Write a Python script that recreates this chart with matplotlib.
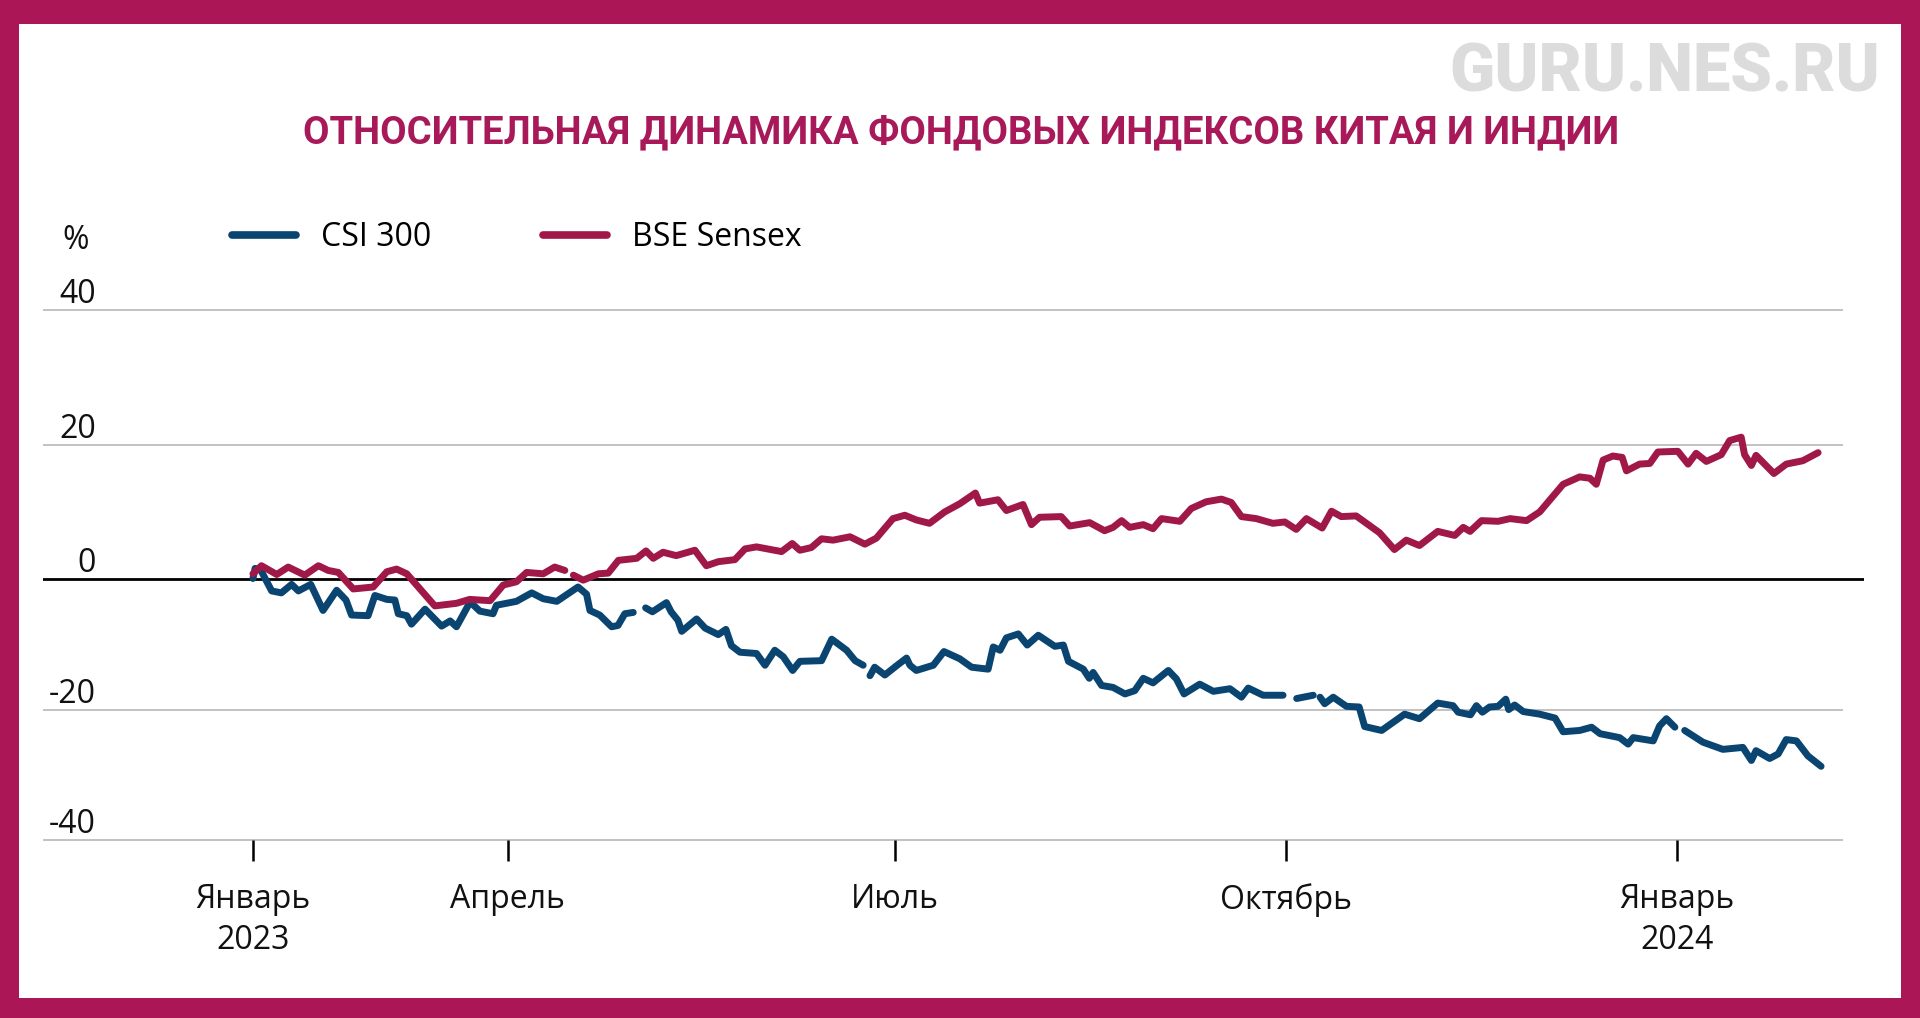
import numpy as np
import matplotlib
matplotlib.use('Agg')
import matplotlib.pyplot as plt
from matplotlib.patches import Rectangle
from matplotlib.lines import Line2D

###############################################################
# Data (days since the first observation, % change)
###############################################################
bse_days = [0, 2, 5.6, 8.3, 12.2, 15.4, 17.7, 20.1, 23.6, 28.3, 31.5, 33.8, 36.2,
            42.8, 47.9, 51.0, 55.8, 58.9, 62.0, 64.4, 68.3, 71.0, 73.4, 74.4,
            75.4, 77.7, 81.3, 83.6, 86.0, 90.3, 92.5, 94.2, 96.5, 99.6, 104.0,
            106.7, 109.5, 113.4, 115.8, 118.5, 124.4, 126.9, 128.7, 131.4, 133.8,
            136.5, 140.5, 144.0, 146.7, 150.6, 153.4, 156.1, 159.2, 162.8, 166.3,
            170.0, 171.0, 175.3, 177.3, 181.2, 183.2, 185.1, 190.2, 192.2, 196.9,
            200.4, 202.4, 204.4, 206.3, 209.5, 211.8, 213.8, 218.1, 220.8, 224.3,
            227.9, 230.2, 232.6, 236.1, 240.0, 242.8, 245.5, 247.9, 251.6, 253.8,
            256.1, 259.6, 265.1, 268.6, 271.4, 274.5, 278.8, 282.8, 284.8, 286.4,
            289.1, 293.0, 295.8, 299.7, 302.8, 308.3, 312.2, 314.6, 316.1, 317.7,
            320.0, 322.2, 323.2, 326.3, 328.7, 330.6, 335.3, 337.7, 339.6, 342.0,
            345.5, 347.5, 350.2, 351.0, 352.6, 353.7, 357.9, 360.8, 364.7, 368.3]
bse_vals = [0.8, 2.0, 0.7, 1.8, 0.6, 2.0, 1.3, 1.0, -1.5, -1.2, 1.1, 1.5, 0.8,
            -4.1, -3.7, -3.1, -3.3, -0.9, -0.4, 1.0, 0.8, 1.8, 1.3, np.nan,
            0.6, -0.15, 0.8, 0.9, 2.8, 3.1, 4.2, 3.1, 4.0, 3.5, 4.3,
            2.0, 2.6, 2.9, 4.5, 4.8, 4.1, 5.3, 4.3, 4.7, 6.0,
            5.8, 6.3, 5.2, 6.1, 9.0, 9.5, 8.8, 8.3, 10.0, 11.2,
            12.8, 11.3, 11.8, 10.2, 11.1, 8.1, 9.2, 9.3, 7.9, 8.4,
            7.2, 7.7, 8.7, 7.7, 8.1, 7.5, 9.0, 8.6, 10.5, 11.5,
            11.9, 11.4, 9.3, 9.0, 8.3, 8.5, 7.4, 9.0, 7.6, 10.1,
            9.3, 9.4, 6.9, 4.4, 5.8, 5.0, 7.1, 6.5, 7.7, 7.1,
            8.7, 8.6, 9.0, 8.7, 10.0, 14.1, 15.2, 15.0, 14.1, 17.7,
            18.3, 18.1, 16.1, 17.1, 17.2, 18.9, 19.0, 17.1, 18.7, 17.5,
            18.5, 20.6, 21.1, 18.5, 16.9, 18.4, 15.7, 17.1, 17.6, 18.8]

csi_days = [0, 0.5, 1.8, 4.4, 6.7, 9.1, 10.7, 13.6, 16.5, 19.7, 21.9, 23.2, 27.1,
            28.7, 31.5, 33.4, 34.2, 36.2, 37.3, 40.5, 44.4, 46.4, 47.9, 51.1, 53.4,
            56.5, 57.3, 62.0, 65.6, 68.3, 71.5, 76.5, 78.5, 79.3, 81.6, 84.4, 85.9,
            87.5, 89.5, 91.0, 92.4, 94.0, 97.3, 98.4, 100.0, 100.9, 104.4, 106.4,
            109.5, 111.3, 112.6, 114.6, 118.5, 120.5, 122.8, 124.8, 127.0, 128.7,
            133.8, 136.2, 139.7, 141.7, 143.6, 144.4, 145.2, 146.3, 148.7, 151.4,
            153.8, 154.6, 156.1, 160.1, 162.6, 166.3, 169.1, 173.0, 174.2, 175.8,
            177.3, 180.1, 182.2, 184.8, 188.7, 190.7, 191.9, 195.4, 196.8, 197.7,
            199.7, 202.4, 205.2, 207.5, 209.5, 211.8, 215.4, 217.3, 219.1, 222.8,
            226.0, 229.9, 232.6, 234.2, 237.7, 242.4, 244.0, 245.6, 249.5, 250.3,
            251.1, 252.2, 254.2, 257.3, 260.3, 261.6, 265.6, 271.0, 274.5, 278.8,
            282.4, 283.6, 286.5, 287.9, 289.3, 291.0, 293.0, 294.8, 295.5, 296.9,
            298.9, 302.8, 306.4, 308.3, 312.2, 315.0, 317.0, 321.6, 323.6, 324.8,
            329.5, 331.0, 332.6, 334.6, 335.7, 336.9, 341.2, 345.9, 350.6, 352.6,
            353.7, 356.9, 358.9, 360.8, 363.2, 365.9, 369.0]
csi_vals = [0.1, 1.6, 1.4, -1.8, -2.1, -0.8, -1.8, -0.8, -4.8, -1.7, -3.2, -5.5, -5.6,
            -2.5, -3.1, -3.2, -5.3, -5.6, -6.9, -4.6, -7.2, -6.4, -7.3, -3.5, -4.9,
            -5.3, -4.0, -3.4, -2.1, -3.0, -3.4, -1.2, -2.3, -4.8, -5.5, -7.3, -7.1,
            -5.3, -5.1, np.nan, -4.4, -5.0, -3.6, -5.0, -6.3, -8.0, -6.1, -7.5,
            -8.5, -7.7, -10.2, -11.2, -11.4, -13.2, -10.9, -11.9, -14.0, -12.6,
            -12.5, -9.2, -10.9, -12.5, -13.2, np.nan, -14.8, -13.5, -14.7, -13.3,
            -12.1, -13.2, -14.0, -13.2, -11.1, -12.2, -13.5, -13.8, -10.4, -10.9,
            -9.0, -8.4, -10.1, -8.6, -10.3, -10.1, -12.6, -13.8, -15.2, -14.3,
            -16.3, -16.6, -17.6, -17.1, -15.2, -15.9, -14.0, -15.3, -17.6, -16.1,
            -17.2, -16.8, -18.1, -16.7, -17.8, -17.8, np.nan, -18.3, -17.8, np.nan,
            -18.1, -19.1, -18.1, -19.5, -19.6, -22.6, -23.2, -20.7, -21.4, -19.0,
            -19.4, -20.4, -20.8, -19.4, -20.4, -19.6, -19.5, -18.4, -20.0, -19.3,
            -20.3, -20.7, -21.3, -23.4, -23.2, -22.7, -23.7, -24.3, -25.3, -24.3,
            -24.8, -22.5, -21.4, -22.7, np.nan, -23.2, -25.0, -26.1, -25.8, -27.8,
            -26.3, -27.5, -26.8, -24.6, -24.8, -27.1, -28.7]

tick_days = [0, 60, 151, 243, 335]
tick_labels = ['Январь\n2023', 'Апрель', 'Июль', 'Октябрь', 'Январь\n2024']
y_levels = [40, 20, 0, -20, -40]

###############################################################
# Style
###############################################################
plt.rcParams['font.family'] = ['Open Sans', 'DejaVu Sans']
frame_color = '#ab1656'
title_color = '#a8195a'
csi_color = '#0a4571'
bse_color = '#a01848'
txt = 23

# the source chart stretches the positive half a little more than the negative
POS = 1.032


def fwd(v):
    v = np.asarray(v, dtype=float)
    return np.where(v >= 0, v * POS, v)


def inv(v):
    v = np.asarray(v, dtype=float)
    return np.where(v >= 0, v / POS, v)


W, H = 1920, 1018
fig = plt.figure(figsize=(W / 100, H / 100), dpi=100)
fig.patch.set_facecolor(frame_color)
fig.patches.append(Rectangle((19 / W, 20 / H), (W - 38) / W, (H - 44) / H,
                             transform=fig.transFigure, facecolor='white',
                             edgecolor='none', zorder=-5))

# axes placed so that day 0 sits at x=253 px, 4.25 px per day
ax = fig.add_axes([43 / W, (H - 840) / H, 1821 / W, 530 / H])
ax.set_zorder(2)
ax.set_facecolor('none')
ax.set_yscale('function', functions=(fwd, inv))
ax.set_xlim(-49.4, 379.1)
ax.set_ylim(-40, 40)
for s in ax.spines.values():
    s.set_visible(False)

# grid lines
for v in y_levels:
    if v == 0:
        ax.axhline(0, color='black', lw=2.0, zorder=2)
    else:
        ax.hlines(v, -49.4, 374.1, color='#b8b8b8', lw=1.2, zorder=1, clip_on=False)
    ax.annotate(str(v), xy=(0.029, v), xycoords=ax.get_yaxis_transform(),
                xytext=(0, 5), textcoords='offset points',
                ha='right', va='baseline', fontsize=txt, color='#111111')

ax.plot(csi_days, csi_vals, color=csi_color, lw=5.0, solid_capstyle='round',
        solid_joinstyle='round', zorder=3, label='CSI 300')
ax.plot(bse_days, bse_vals, color=bse_color, lw=5.0, solid_capstyle='round',
        solid_joinstyle='round', zorder=3, label='BSE Sensex')

ax.set_yticks([])
ax.minorticks_off()
ax.set_xticks(tick_days)
ax.set_xticklabels(tick_labels, fontsize=txt, color='#111111', linespacing=1.3)
ax.tick_params(axis='x', direction='out', length=15, width=1.8, pad=16,
               color='black')
ax.tick_params(axis='y', which='both', left=False, labelleft=False)

# legend
handles = [Line2D([], [], color=csi_color, lw=5.5, solid_capstyle='round'),
           Line2D([], [], color=bse_color, lw=5.5, solid_capstyle='round')]
fig.legend(handles, ['CSI 300', 'BSE Sensex'], loc='center left',
           bbox_to_anchor=(232 / W, 1 - 238 / H), ncol=2, frameon=False,
           fontsize=txt, handlelength=2.0, handletextpad=0.78, columnspacing=3.5,
           borderpad=0, borderaxespad=0)

fig.text(76 / W, 1 - 249 / H, '%', ha='center', va='baseline', fontsize=txt,
         color='#111111')

fig.text(961 / W, 1 - 143 / H,
         'ОТНОСИТЕЛЬНАЯ ДИНАМИКА ФОНДОВЫХ ИНДЕКСОВ КИТАЯ И ИНДИИ',
         ha='center', va='baseline', fontsize=27.5, fontweight='bold',
         color=title_color, family=['Roboto', 'DejaVu Sans'])

fig.text(1880 / W, 1 - 92 / H, 'GURU.NES.RU', ha='right', va='baseline',
         fontsize=48, fontweight='black', color='#dcdcdc',
         family=['Roboto', 'DejaVu Sans'])

fig.savefig('out.png', dpi=100, facecolor=fig.get_facecolor())
